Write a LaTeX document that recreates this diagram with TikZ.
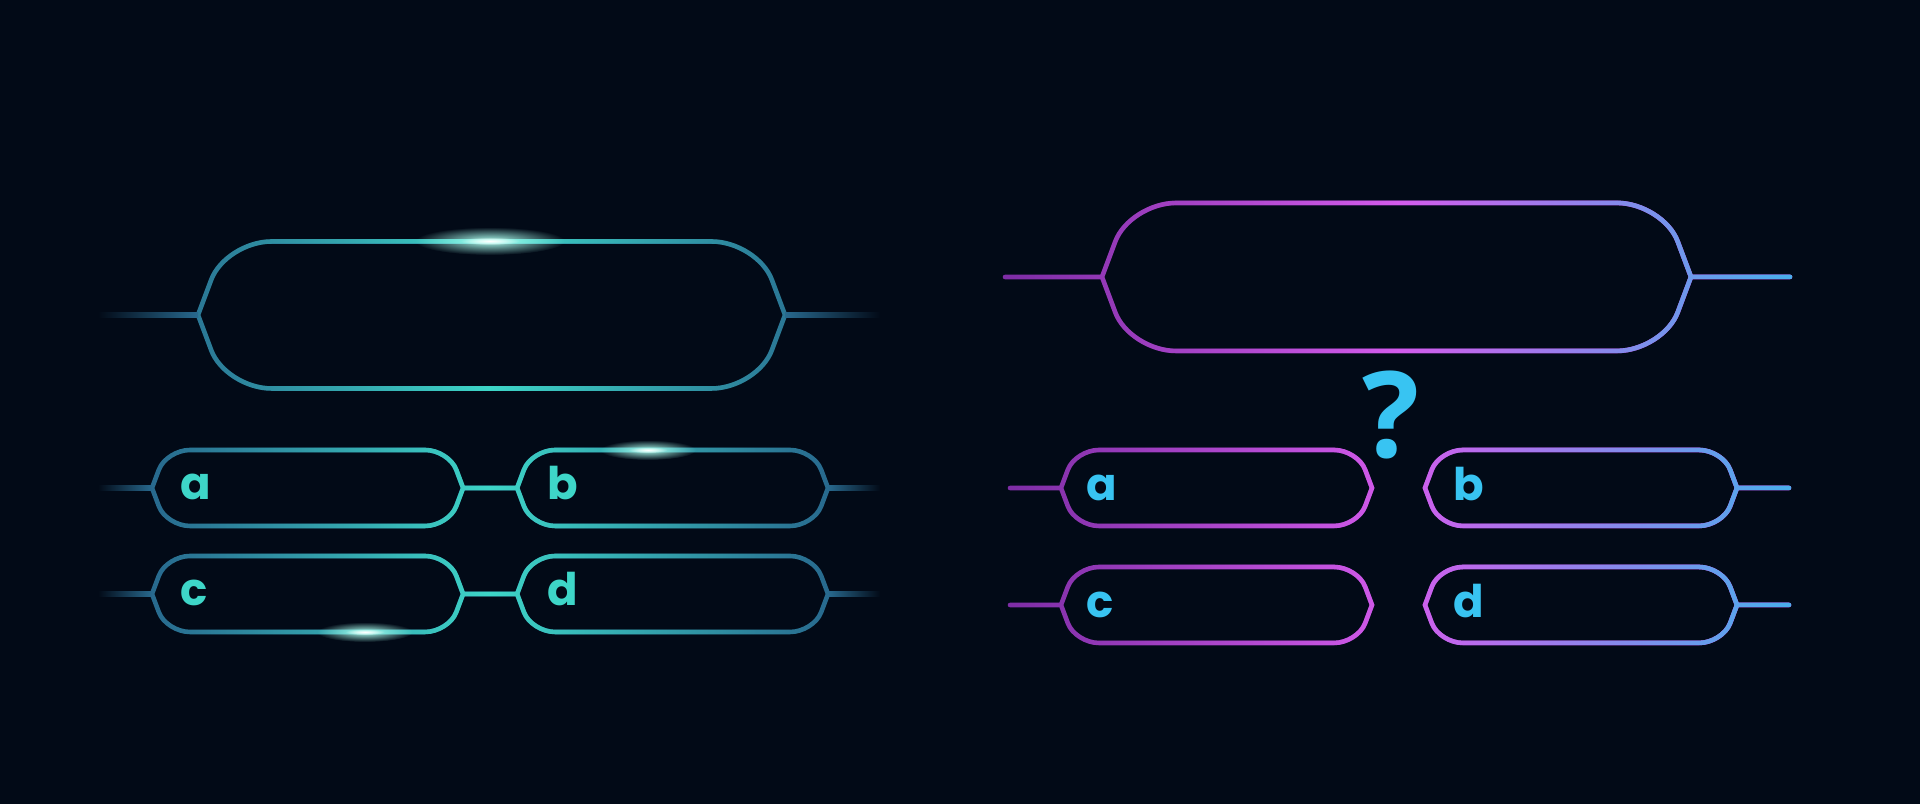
\documentclass[tikz,border=0pt]{standalone}
\usepackage{fontspec}
\newfontfamily\quizfont{Poppins}
\newfontfamily\markfont{Open Sans}
\usetikzlibrary{calc,fadings}
\definecolor{bg}{RGB}{2,10,23}
\definecolor{qsteel}{RGB}{40,105,142}
\definecolor{qteal}{RGB}{62,214,200}
\definecolor{qpurple}{RGB}{125,45,165}
\definecolor{qmagenta}{RGB}{212,92,236}
\definecolor{qblue}{RGB}{72,176,236}
\definecolor{qcyan}{RGB}{56,196,242}
\definecolor{qglow}{RGB}{170,255,240}

\tikzfading[name=fade mid, left color=transparent!100, right color=transparent!100, middle color=transparent!0]
\tikzfading[name=fade rise, left color=transparent!100, right color=transparent!0, middle color=transparent!0]
\tikzfading[name=fade late, left color=transparent!100, right color=transparent!0, middle color=transparent!100]
\tikzfading[name=fade glow, inner color=transparent!0, outer color=transparent!100]

\tikzset{
  % name, left tip, right tip, middle height, half height
  qbox/.style n args={5}{insert path={
    (#2,#4) coordinate (#1-l)
    -- ({#2+0.18*#5},{#4-0.48*#5})
    .. controls ({#2+0.287*#5},{#4-0.766*#5}) and ({#2+0.656*#5},{#4-#5}) .. ({#2+#5},{#4-#5})
    -- ({#3-#5},{#4-#5})
    .. controls ({#3-0.656*#5},{#4-#5}) and ({#3-0.287*#5},{#4-0.766*#5}) .. ({#3-0.18*#5},{#4-0.48*#5})
    -- (#3,#4) coordinate (#1-r)
    -- ({#3-0.18*#5},{#4+0.48*#5})
    .. controls ({#3-0.287*#5},{#4+0.766*#5}) and ({#3-0.656*#5},{#4+#5}) .. ({#3-#5},{#4+#5})
    -- ({#2+#5},{#4+#5})
    .. controls ({#2+0.656*#5},{#4+#5}) and ({#2+0.287*#5},{#4+0.766*#5}) .. ({#2+0.18*#5},{#4+0.48*#5})
    -- cycle}},
  frame/.style={line width=1.3pt, line join=miter},
  lframes/.style={insert path={
    [qbox={lq}{198}{785}{315}{73.5}]
    [qbox={la}{152}{463}{488}{38}]
    [qbox={lb}{517}{828}{488}{38}]
    [qbox={lc}{152}{463}{594}{38}]
    [qbox={ld}{517}{828}{594}{38}]
    (la-r) -- (lb-l) (lc-r) -- (ld-l)}},
  rframes/.style={insert path={
    [qbox={rq}{1102}{1691}{277}{74}]
    [qbox={ra}{1061}{1372}{488}{38}]
    [qbox={rb}{1425}{1737}{488}{38}]
    [qbox={rc}{1061}{1372}{605}{38}]
    [qbox={rd}{1425}{1737}{605}{38}]
    (rs1) -- (rq-l) (rq-r) -- (rs2)
    (rs3) -- (ra-l) (rb-r) -- (rs4)
    (rs5) -- (rc-l) (rd-r) -- (rs6)}},
  stub in/.style={left color=bg, right color=qsteel},
  stub out/.style={left color=qsteel, right color=bg},
  lab/.style={font=\quizfont\bfseries\fontsize{12.8}{14}\selectfont, anchor=base west, inner sep=0pt},
}

\begin{document}
\begin{tikzpicture}[x=0.01cm, y=-0.01cm]
  \useasboundingbox (0,0) rectangle (1920,804);
  \fill[bg] (0,0) rectangle (1920,804);

  % left set, blue at the ends and teal in the middle
  \draw[frame, qsteel] [lframes];
  \draw[frame, qteal, path fading=fade mid] [lframes];
  \shade[stub in] ($(lq-l)+(-100,-2.2)$) rectangle ($(lq-l)+(0,2.2)$);
  \shade[stub out] ($(lq-r)+(0,-2.2)$) rectangle ($(lq-r)+(95,2.2)$);
  \shade[stub in] ($(la-l)+(-54,-2.2)$) rectangle ($(la-l)+(0,2.2)$);
  \shade[stub in] ($(lc-l)+(-54,-2.2)$) rectangle ($(lc-l)+(0,2.2)$);
  \shade[stub out] ($(lb-r)+(0,-2.2)$) rectangle ($(lb-r)+(52,2.2)$);
  \shade[stub out] ($(ld-r)+(0,-2.2)$) rectangle ($(ld-r)+(52,2.2)$);
  % glints
  \fill[qglow, path fading=fade glow] (490,241) ellipse (75 and 14);
  \fill[white, path fading=fade glow] (490,241) ellipse (30 and 4);
  \fill[qglow, path fading=fade glow] (648,450) ellipse (48 and 10);
  \fill[white, path fading=fade glow] (648,450) ellipse (20 and 3);
  \fill[qglow, path fading=fade glow] (365,632) ellipse (48 and 10);
  \fill[white, path fading=fade glow] (365,632) ellipse (20 and 3);

  \node[lab, qteal] (ta) at ($(la-l)+(28,12)$) {a};
  \node[lab, qteal] (tb) at ($(lb-l)+(30,12)$) {b};
  \node[lab, qteal] (tc) at ($(lc-l)+(28,12)$) {c};
  \node[lab, qteal] (td) at ($(ld-l)+(30,12)$) {d};

  % right set, purple to magenta to blue
  \coordinate (rs1) at (1005,277);
  \coordinate (rs2) at (1790,277);
  \coordinate (rs3) at (1010,488);
  \coordinate (rs4) at (1789,488);
  \coordinate (rs5) at (1010,605);
  \coordinate (rs6) at (1789,605);
  \draw[frame, line cap=round, qpurple] [rframes];
  \draw[frame, line cap=round, qmagenta, path fading=fade rise] [rframes];
  \draw[frame, line cap=round, qblue, path fading=fade late] [rframes];

  \node[lab, qcyan] (ua) at ($(ra-l)+(25,13)$) {a};
  \node[lab, qcyan] (ub) at ($(rb-l)+(28,13)$) {b};
  \node[lab, qcyan] (uc) at ($(rc-l)+(25,13)$) {c};
  \node[lab, qcyan] (ud) at ($(rd-l)+(28,13)$) {d};
  \node[font=\markfont\bfseries\fontsize{34}{40}\selectfont, text=qcyan, anchor=base, inner sep=0pt] (qm) at (1391,458) {?};
\end{tikzpicture}
\end{document}
